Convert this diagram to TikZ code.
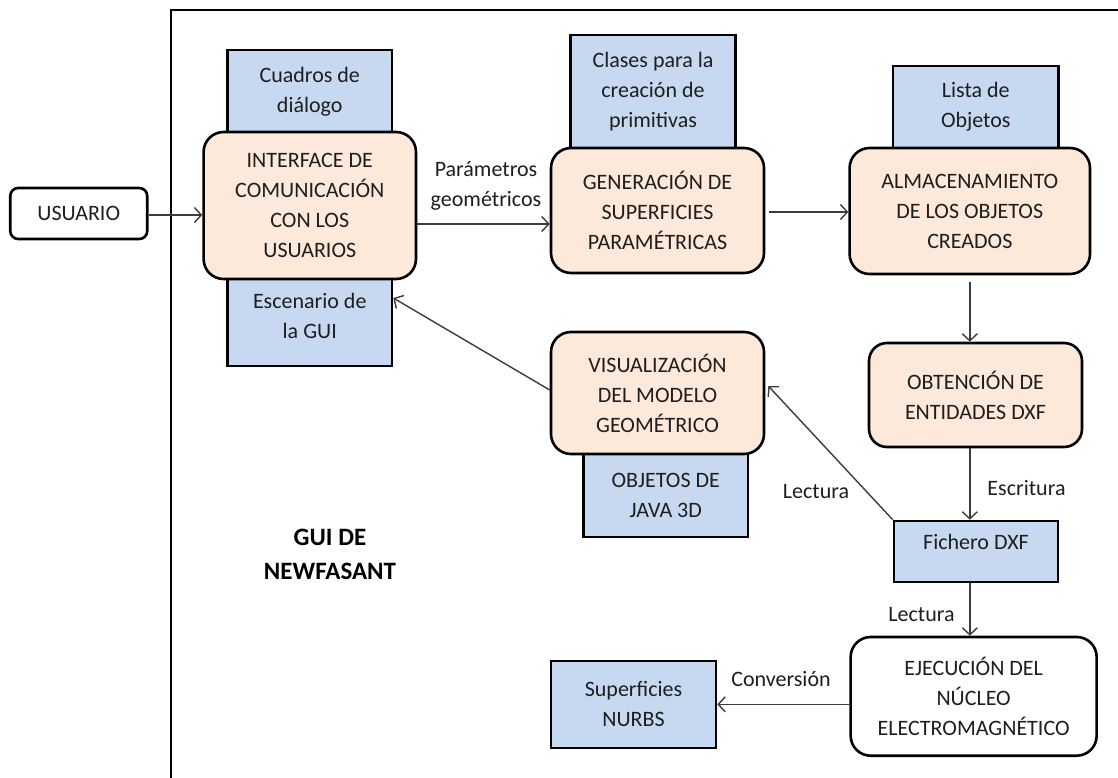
\documentclass[tikz,border=0pt]{standalone}
\usepackage{fontspec}
\setmainfont{Carlito}
\usetikzlibrary{arrows.meta,calc}
\definecolor{boxblue}{HTML}{C6D9F1}
\definecolor{boxorange}{HTML}{FDE9D9}
\definecolor{arrowgray}{HTML}{3C3C3C}
\definecolor{inkblack}{HTML}{1E1E1E}

\tikzset{
  every node/.style={font=\fontsize{22}{30}\selectfont, align=center, text=inkblack},
  bluebox/.style={draw=black, line width=2.6pt, fill=boxblue, inner sep=0pt},
  procbox/.style={draw=black, line width=2.6pt, fill=boxorange, rounded corners=20pt, inner sep=0pt},
  plainbox/.style={draw=black, line width=2.6pt, fill=white, inner sep=0pt},
  flow/.style={draw=arrowgray, line width=1.4pt, -{Straight Barb[length=7pt,width=15pt]}},
  flowlabel/.style={inner sep=0pt},
  frame/.style={draw=black, line width=2.8pt}
}

\begin{document}
\begin{tikzpicture}[x=1pt,y=-1pt]
\useasboundingbox (0,0) rectangle (1118,778);

% enclosing frame of the GUI
\draw[frame] (171,800) |- (1140,10);

% user
\node[plainbox, rounded corners=8pt, minimum width=137pt, minimum height=51pt] (usuario) at (78.75,213.5) {USUARIO};

% supporting (blue) boxes, drawn beneath the process boxes
\node[bluebox, minimum width=164.5pt, minimum height=83pt] (cuadros) at (309.75,91.5) {Cuadros de\\diálogo};
\node[bluebox, minimum width=164.5pt, minimum height=87pt, text depth=14pt] (escenario) at (309.75,322.5) {Escenario de\\la GUI};
\node[bluebox, minimum width=165pt, minimum height=113pt] (clases) at (653,91.5) {Clases para la\\creación de\\primitivas};
\node[bluebox, minimum width=165.5pt, minimum height=82pt] (lista) at (975.8,107) {Lista de\\Objetos};
\node[bluebox, minimum width=164.5pt, minimum height=83pt] (objetos) at (665.75,495.5) {OBJETOS DE\\JAVA 3D};
\node[bluebox, minimum width=164pt, minimum height=61pt, text height=10pt, text depth=14pt] (fichero) at (976,551.5) {Fichero DXF};
\node[bluebox, minimum width=165pt, minimum height=87pt] (nurbs) at (633.5,704.35) {Superficies\\NURBS};

% process boxes
\node[procbox, minimum width=212.4pt, minimum height=147pt] (interface) at (309.8,205.5) {INTERFACE DE\\COMUNICACIÓN\\CON LOS\\USUARIOS};
\node[procbox, minimum width=213pt, minimum height=125pt] (gen) at (657.5,210.5) {GENERACIÓN DE\\SUPERFICIES\\PARAMÉTRICAS};
\node[procbox, minimum width=240.4pt, minimum height=126pt] (alm) at (969.8,211) {ALMACENAMIENTO\\DE LOS OBJETOS\\CREADOS};
\node[procbox, rounded corners=18pt, minimum width=213pt, minimum height=104pt] (obt) at (975.5,395) {OBTENCIÓN DE\\ENTIDADES DXF};
\node[procbox, minimum width=213pt, minimum height=122pt] (vis) at (657.5,393) {VISUALIZACIÓN\\DEL MODELO\\GEOMÉTRICO};
\node[plainbox, rounded corners=20pt, minimum width=246pt, minimum height=118.7pt] (ejec) at (973.65,696.35) {EJECUCIÓN DEL\\NÚCLEO\\ELECTROMAGNÉTICO};

% frame title
\node[font=\fontsize{25}{34}\selectfont\bfseries, text=black] (gui) at (330,554) {GUI DE\\NEWFASANT};

% connectors
\draw[flow] (usuario.east |- 0,215) -- (interface.west |- 0,215);
\draw[flow] ([yshift=-18.5pt]interface.east) -- ([yshift=-18.5pt]interface.east -| gen.west);
\draw[flow, shorten <=4pt] (gen.east |- 0,212) -- (alm.west |- 0,212);
\draw[flow, shorten <=7pt] (alm.south) -- (alm.south |- obt.north);
\draw[flow] (alm.south |- obt.south) -- (alm.south |- fichero.north);
\draw[flow] (fichero.north west) -- ([xshift=3pt,yshift=7pt]vis.east);
\draw[flow] ([yshift=3pt]vis.west) -- ([yshift=24.5pt]escenario.east);
\draw[flow] (alm.south |- fichero.south) -- (alm.south |- ejec.north);
\draw[flow] (ejec.west |- nurbs.east) -- (nurbs.east);

% connector labels
\node[flowlabel] (lparam) at (486,185.5) {Parámetros\\geométricos};
\node[flowlabel] (lescr) at (1026.5,488) {Escritura};
\node[flowlabel] (llect1) at (816,492) {Lectura};
\node[flowlabel] (llect2) at (921.5,615) {Lectura};
\node[flowlabel] (lconv) at (781,679) {Conversión};
\end{tikzpicture}
\end{document}
